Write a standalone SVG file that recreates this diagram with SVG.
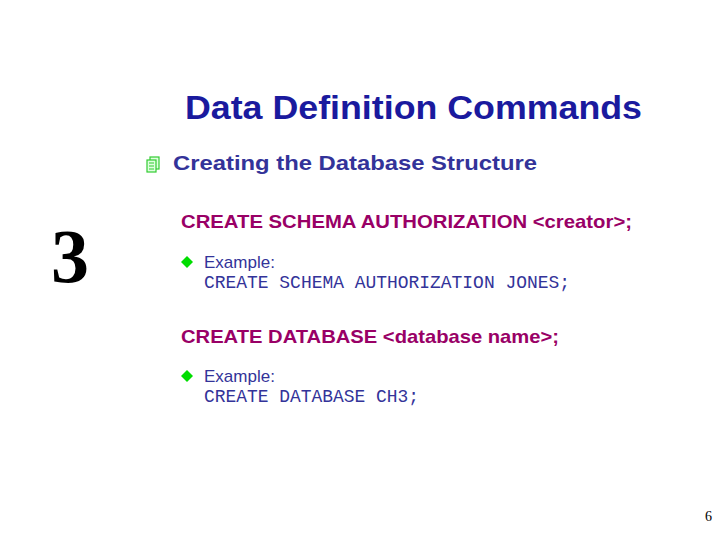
<svg xmlns="http://www.w3.org/2000/svg" width="720" height="540" viewBox="0 0 720 540">
<style>
.s{font-family:"Liberation Sans",Arial,sans-serif;font-weight:bold}
.n{font-family:"Liberation Sans",Arial,sans-serif;fill:#333399;font-size:17px}
.m{font-family:"Liberation Mono","Courier New",monospace;fill:#333399;font-size:18px}
.p{fill:#990066;font-size:19px}
</style>
<rect width="720" height="540" fill="#fff"/>
<text x="185" y="119" class="s" font-size="33" fill="#1a1a9e" textLength="457" lengthAdjust="spacingAndGlyphs">Data Definition Commands</text>
<g id="icon" fill="#dfffdf" stroke="#33cc33" stroke-width="1.2">
<rect x="150" y="157" width="9" height="12"/><rect x="147" y="160" width="9" height="12"/>
<path d="M149 163h5M149 166h5M149 169h5" fill="none"/>
</g>
<text x="173" y="170" class="s" font-size="21" fill="#333399" textLength="364" lengthAdjust="spacingAndGlyphs">Creating the Database Structure</text>
<text x="51" y="282" font-family="'Liberation Serif','Times New Roman',serif" font-weight="bold" font-size="76" fill="#000">3</text>
<text x="181" y="228" class="s p" textLength="451" lengthAdjust="spacingAndGlyphs">CREATE SCHEMA AUTHORIZATION &lt;creator&gt;;</text>
<path d="M187 256l6 6-6 6-6-6z" fill="#00dd00"/>
<text x="204" y="268" class="n">Example:</text>
<text x="204" y="288" class="m" textLength="366" lengthAdjust="spacingAndGlyphs">CREATE SCHEMA AUTHORIZATION JONES;</text>
<text x="181" y="343" class="s p" textLength="378" lengthAdjust="spacingAndGlyphs">CREATE DATABASE &lt;database name&gt;;</text>
<path d="M187 370l6 6-6 6-6-6z" fill="#00dd00"/>
<text x="204" y="382" class="n">Example:</text>
<text x="204" y="402" class="m" textLength="215" lengthAdjust="spacingAndGlyphs">CREATE DATABASE CH3;</text>
<text x="712" y="521" text-anchor="end" font-family="'Liberation Serif',serif" font-size="14">6</text>
</svg>
